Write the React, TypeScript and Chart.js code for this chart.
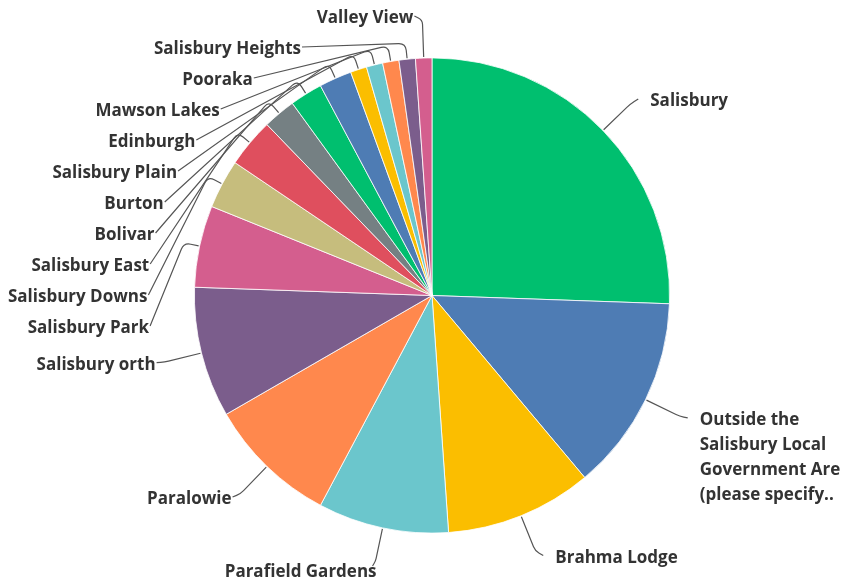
import React, { useEffect, useRef } from 'react';
import { Chart, registerables } from 'chart.js';

Chart.register(...registerables);

// ---- data ----
const categories: (string | string[])[] = [
  'Salisbury',
  ['Outside the', 'Salisbury Local', 'Government Are', '(please specify..'],
  'Brahma Lodge',
  'Parafield Gardens',
  'Paralowie',
  'Salisbury orth',
  'Salisbury Park',
  'Salisbury Downs',
  'Salisbury East',
  'Bolivar',
  'Burton',
  'Salisbury Plain',
  'Edinburgh',
  'Mawson Lakes',
  'Pooraka',
  'Salisbury Heights',
  'Valley View',
];
const responses = [23, 12, 9, 8, 8, 8, 5, 3, 3, 2, 2, 2, 1, 1, 1, 1, 1];
const palette = [
  '#00BF6F',
  '#4E7CB4',
  '#FBBE00',
  '#6BC6CC',
  '#FF884D',
  '#7B5D8C',
  '#D45E8E',
  '#C6BD7D',
  '#DF4F5E',
  '#758083',
];

// ---- label layout constants ----
const FONT = '700 17px "Open Sans"';
const TEXT_COLOR = '#333333';
const LINE_COLOR = '#555555';
const LINE_H = 25;
const GAP = 31;
const TOP = 17;
const BOTTOM = 572;

const leaderLabels = {
  id: 'leaderLabels',
  afterDatasetsDraw(chart: any) {
    const ctx: CanvasRenderingContext2D = chart.ctx;
    const meta = chart.getDatasetMeta(0);
    const labels = chart.data.labels as (string | string[])[];
    const items = meta.data.map((arc: any, i: number) => {
      const p = arc.getProps(['x', 'y', 'startAngle', 'endAngle', 'outerRadius'], true);
      const a = (p.startAngle + p.endAngle) / 2;
      const lines = Array.isArray(labels[i]) ? (labels[i] as string[]) : [labels[i] as string];
      const right = Math.cos(a) >= 0;
      const ny = p.y + Math.sin(a) * (p.outerRadius + 44);
      return { i, cx: p.x, cy: p.y, r: p.outerRadius, a, lines, right, ny, y: ny };
    });

    for (const side of [true, false]) {
      const list = items.filter((it: any) => it.right === side).sort((p: any, q: any) => p.ny - q.ny);
      let prevBottom = -Infinity;
      list.forEach((it: any) => {
        const minY = Math.max(TOP, prevBottom + GAP);
        it.y = Math.max(it.ny, minY);
        prevBottom = it.y + (it.lines.length - 1) * LINE_H;
      });
      let next = Infinity;
      for (let k = list.length - 1; k >= 0; k--) {
        const it = list[k];
        const h = (it.lines.length - 1) * LINE_H;
        if (it.y + h > BOTTOM) it.y = BOTTOM - h;
        if (it.y + h + GAP > next) it.y = next - GAP - h;
        next = it.y;
      }
    }

    ctx.save();
    ctx.font = FONT;
    ctx.textBaseline = 'middle';
    items.forEach((it: any) => {
      const { cx, cy, r, a, right } = it;
      const dir = right ? 1 : -1;
      const cos = Math.cos(a);
      const sin = Math.sin(a);
      const displaced = Math.abs(it.y - it.ny) > 4;
      const bottomLabel = sin > 0.95;
      const e = displaced ? 16 : bottomLabel ? 34 : 38;
      const p0 = { x: cx + cos * (r + 1), y: cy + sin * (r + 1) };
      const p1 = { x: cx + cos * (r + e), y: cy + sin * (r + e) };
      const ly = bottomLabel ? it.y - 5 : it.y - 1;
      let ax: number;
      if (displaced) {
        const A = r + 46;
        const B = r + 42;
        const t = Math.min(1, Math.abs(ly - cy) / B);
        ax = cx + dir * A * Math.sqrt(1 - t * t);
      } else {
        ax = p1.x + dir * (bottomLabel ? 3 : 8);
      }
      const p2 = { x: ax, y: ly };
      const d1 = Math.hypot(p0.x - p1.x, p0.y - p1.y);
      const d2 = Math.hypot(p2.x - p1.x, p2.y - p1.y);
      const c = Math.min(7, d1 / 2, d2 / 2);
      const q0 = { x: p1.x + ((p0.x - p1.x) / d1) * c, y: p1.y + ((p0.y - p1.y) / d1) * c };
      const q2 = { x: p1.x + ((p2.x - p1.x) / d2) * c, y: p1.y + ((p2.y - p1.y) / d2) * c };
      ctx.beginPath();
      ctx.moveTo(p0.x, p0.y);
      ctx.lineTo(q0.x, q0.y);
      ctx.quadraticCurveTo(p1.x, p1.y, q2.x, q2.y);
      ctx.lineTo(p2.x, p2.y);
      ctx.strokeStyle = LINE_COLOR;
      ctx.lineWidth = 1.2;
      ctx.stroke();

      ctx.fillStyle = TEXT_COLOR;
      ctx.textAlign = right ? 'left' : 'right';
      const tx = right ? ax + 12 : bottomLabel ? ax + 4 : ax - 1;
      it.lines.forEach((line: string, k: number) => {
        ctx.fillText(line, tx, it.y + 1.5 + k * LINE_H);
      });
    });
    ctx.restore();
  },
};

export default function App() {
  const canvasRef = useRef<HTMLCanvasElement | null>(null);

  useEffect(() => {
    if (!canvasRef.current) return;
    const chart = new Chart(canvasRef.current, {
      type: 'pie',
      data: {
        labels: categories,
        datasets: [
          {
            data: responses,
            backgroundColor: responses.map((_, i) => palette[i % palette.length]),
            borderColor: '#ffffff',
            borderWidth: 0.8,
          },
        ],
      },
      options: {
        responsive: false,
        maintainAspectRatio: false,
        animation: false,
        devicePixelRatio: 1,
        layout: { padding: { left: 194, right: 173, top: 57, bottom: 53 } },
        plugins: {
          legend: { display: false },
          tooltip: { enabled: false },
        },
      },
      plugins: [leaderLabels],
    });
    return () => chart.destroy();
  }, []);

  return (
    <div style={{ position: 'absolute', left: 0, top: 0, width: 843, height: 587, background: '#ffffff' }}>
      <canvas ref={canvasRef} width={843} height={587} style={{ display: 'block' }} />
    </div>
  );
}
